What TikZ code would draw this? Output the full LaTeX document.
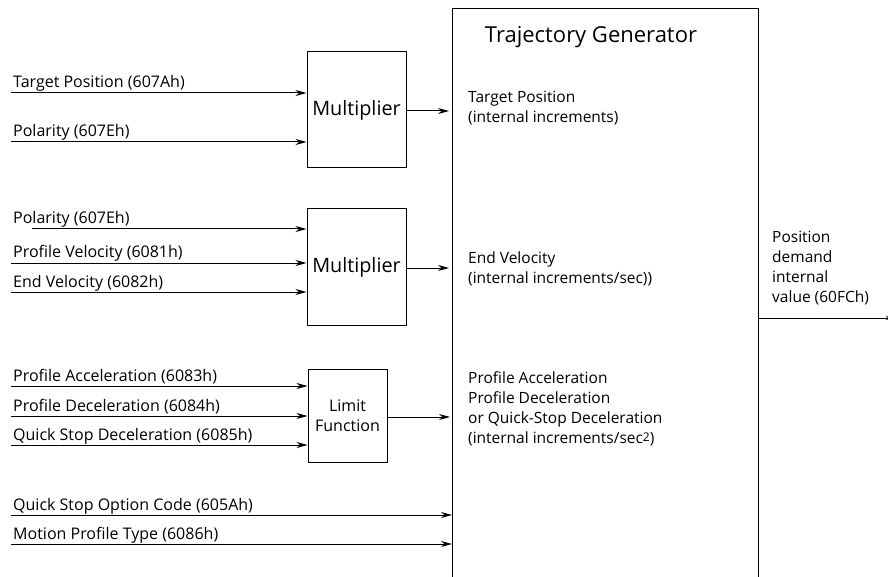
\documentclass[tikz,border=0pt]{standalone}
\usepackage{fontspec}
\setmainfont{Open Sans}
\usetikzlibrary{arrows.meta}
\begin{document}
\begin{tikzpicture}[x=1pt,y=-1pt,
  lbl/.style={anchor=base west,inner sep=0pt,font=\fontsize{16}{18}\selectfont},
  box/.style={draw,line width=1pt,inner sep=0pt},
  arr/.style={line width=1pt,-{Stealth[length=11pt,width=6pt,inset=3.5pt]}},
  inner/.style={anchor=base west,inner sep=0pt,align=left,font=\fontsize{15.5}{20}\selectfont},
]
\useasboundingbox (0,0) rectangle (888,577);
% Trajectory generator (open below)
\coordinate (tgbl) at (452,585);
\coordinate (tgtl) at (452,9);
\coordinate (tgtr) at (758,9);
\coordinate (tgbr) at (758,585);
\draw[line width=1pt] (tgbl) -- (tgtl) -- (tgtr) -- (tgbr);
\node[anchor=base,font=\fontsize{22}{24}\selectfont,inner sep=0pt] (title) at (591,43) {Trajectory Generator};
% Boxes
\node[box,minimum width=99pt,minimum height=116pt,font=\fontsize{19.8}{22}\selectfont] (m1) at (356.5,110) {Multiplier};
\node[box,minimum width=99pt,minimum height=116pt,font=\fontsize{19.8}{22}\selectfont] (m2) at (356.5,267) {Multiplier};
\node[box,minimum width=79pt,minimum height=93pt,align=center,font=\fontsize{16}{20}\selectfont] (lf) at (347.5,415.5) {Limit\\Function};
% Input coordinates
\coordinate (i1) at (11,93);
\coordinate (i2) at (11,142);
\coordinate (i3) at (32,229);
\coordinate (i4) at (11,263);
\coordinate (i5) at (11,292);
\coordinate (i6) at (11,386);
\coordinate (i7) at (11,416);
\coordinate (i8) at (11,445);
\coordinate (i9) at (11,515);
\coordinate (i10) at (11,544);
% Labels
\node[lbl] (l1) at (13,88) {Target Position (607Ah)};
\node[lbl] (l2) at (13,137) {Polarity (607Eh)};
\node[lbl] (l3) at (13,224) {Polarity (607Eh)};
\node[lbl] (l4) at (13,258) {Profile Velocity (6081h)};
\node[lbl] (l5) at (13,287) {End Velocity (6082h)};
\node[lbl] (l6) at (13,381) {Profile Acceleration (6083h)};
\node[lbl] (l7) at (13,411) {Profile Deceleration (6084h)};
\node[lbl] (l8) at (13,440) {Quick Stop Deceleration (6085h)};
\node[lbl] (l9) at (13,510) {Quick Stop Option Code (605Ah)};
\node[lbl] (l10) at (13,539) {Motion Profile Type (6086h)};
% Input arrows
\draw[arr] (i1) -- (i1 -| m1.west);
\draw[arr] (i2) -- (i2 -| m1.west);
\draw[arr] (i3) -- (i3 -| m2.west);
\draw[arr] (i4) -- (i4 -| m2.west);
\draw[arr] (i5) -- (i5 -| m2.west);
\draw[arr] (i6) -- (i6 -| lf.west);
\draw[arr] (i7) -- (i7 -| lf.west);
\draw[arr] (i8) -- (i8 -| lf.west);
\draw[arr] (i9) -- (i9 -| tgtl);
\draw[arr] (i10) -- (i10 -| tgtl);
% Outputs of boxes
\coordinate (o1) at (449,111);
\coordinate (o2) at (449,268);
\coordinate (o3) at (450,417);
\draw[arr] (m1.east |- o1) -- (o1);
\draw[arr] (m2.east |- o2) -- (o2);
\draw[arr] (lf.east |- o3) -- (o3);
% Inner texts (base anchor = last line baseline)
\node[inner] (t1) at (468,123) {Target Position\\(internal increments)};
\node[inner] (t2) at (468,283) {End Velocity\\(internal increments/sec))};
\node[inner] (t3) at (468,443) {Profile Acceleration\\Profile Deceleration\\or Quick-Stop Deceleration\\(internal increments/sec\raisebox{1.5pt}{\fontsize{12}{12}\selectfont 2})};
% Output
\node[inner] (pd) at (772,302) {Position\\demand\\internal\\value (60FCh)};
\coordinate (out) at (892,318);
\draw[line width=1pt,-{Stealth[length=6pt,width=4pt]}] (tgtr |- out) -- (out);
\end{tikzpicture}
\end{document}
